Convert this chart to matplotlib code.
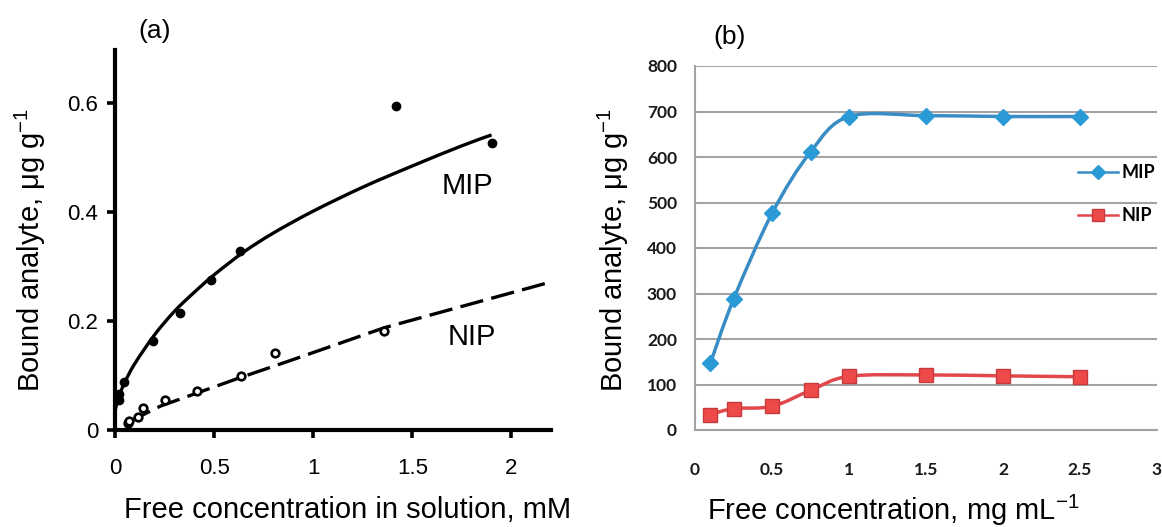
import matplotlib
matplotlib.use("Agg")
import matplotlib.pyplot as plt
from matplotlib.path import Path
from matplotlib.patches import PathPatch
from matplotlib.lines import Line2D

plt.rcParams['font.family'] = ['Liberation Sans', 'DejaVu Sans']
plt.rcParams['mathtext.default'] = 'regular'
plt.rcParams['lines.scale_dashes'] = False

# ---- panel (a): measured points and the drawn fits
a_mip_x = [0.02, 0.02, 0.047, 0.19, 0.326, 0.486, 0.629, 1.42, 1.90]
a_mip_y = [0.066, 0.056, 0.089, 0.164, 0.214, 0.275, 0.328, 0.596, 0.528]
a_nip_x = [0.065, 0.072, 0.116, 0.141, 0.25, 0.414, 0.634, 0.805, 1.356]
a_nip_y = [0.013, 0.017, 0.023, 0.041, 0.056, 0.072, 0.099, 0.142, 0.182]

a_mip_fit_x = [0, 0.02, 0.05, 0.1, 0.2, 0.3, 0.4, 0.5, 0.65, 0.8, 1.0, 1.25, 1.5, 1.75, 1.9]
a_mip_fit_y = [0.035, 0.062, 0.088, 0.122, 0.175, 0.218, 0.253, 0.285, 0.327, 0.362,
               0.402, 0.446, 0.485, 0.522, 0.542]
a_nip_fit_x = [0.07, 0.23, 0.63, 0.88, 1.36, 2.2]
a_nip_fit_y = [0.015, 0.044, 0.096, 0.127, 0.188, 0.272]

# ---- panel (b)
b_x = [0.1, 0.25, 0.5, 0.75, 1.0, 1.5, 2.0, 2.5]
b_mip = [147, 287, 476, 611, 689, 691, 689, 689]
b_nip = [34, 47, 52, 87, 118, 121, 119, 117]

blue_line = '#3a8cc4'
blue_mark = '#2a9ad6'
red_line = '#e2474c'
red_mark = '#ee4a4a'
grid_grey = '#a3a3a3'


def smooth_path(xs, ys, t=1 / 6):
    # Catmull-Rom style bezier through the given points (like Excel "smoothed line")
    pts = list(zip(xs, ys))
    verts = [pts[0]]
    codes = [Path.MOVETO]
    n = len(pts)
    for i in range(n - 1):
        p0 = pts[max(i - 1, 0)]
        p1 = pts[i]
        p2 = pts[i + 1]
        p3 = pts[min(i + 2, n - 1)]
        c1 = (p1[0] + (p2[0] - p0[0]) * t, p1[1] + (p2[1] - p0[1]) * t)
        c2 = (p2[0] - (p3[0] - p1[0]) * t, p2[1] - (p3[1] - p1[1]) * t)
        verts += [c1, c2, p2]
        codes += [Path.CURVE4] * 3
    return Path(verts, codes)


W, H = 1162, 527
fig = plt.figure(figsize=(W / 100, H / 100), dpi=100)

# ---------------- (a)
ax1 = fig.add_axes([115 / W, 1 - 430 / H, (551 - 115) / W, (430 - 50) / H])
ax1.set_xlim(0, 2.2)
ax1.set_ylim(0, 0.698)
for s in ['top', 'right']:
    ax1.spines[s].set_visible(False)
for s in ['left', 'bottom']:
    ax1.spines[s].set_linewidth(3)
ax1.set_xticks([0, 0.5, 1, 1.5, 2])
ax1.set_xticklabels(['0', '0.5', '1', '1.5', '2'])
ax1.set_yticks([0, 0.2, 0.4, 0.6])
ax1.set_yticklabels(['0', '0.2', '0.4', '0.6'])
ax1.tick_params(axis='both', direction='out', length=6, width=2.6, labelsize=16)
ax1.tick_params(axis='x', pad=14)
ax1.tick_params(axis='y', pad=6)

ax1.add_patch(PathPatch(smooth_path(a_mip_fit_x, a_mip_fit_y), fill=False,
                        lw=2.4, edgecolor='black', clip_on=False))
ax1.plot(a_nip_fit_x, a_nip_fit_y, color='black', lw=2.4, ls=(0, (17, 6)),
         solid_capstyle='butt', clip_on=False)
ax1.plot(a_mip_x, a_mip_y, 'o', color='black', ms=6, clip_on=False)
ax1.plot(a_nip_x, a_nip_y, 'o', mfc='white', mec='black', mew=1.9, ms=5.5, clip_on=False)
ax1.text(1.78, 0.449, 'MIP', fontsize=21, ha='center', va='center')
ax1.text(1.80, 0.171, 'NIP', fontsize=21, ha='center', va='center')

fig.text(155 / W, 1 - 31 / H, '(a)', fontsize=19, ha='center', va='center')
fig.text(30 / W, 1 - 250 / H, r'Bound analyte, μg g$^{-1}$', fontsize=21,
         rotation=90, ha='center', va='center')
fig.text(348 / W, 1 - 510 / H, 'Free concentration in solution, mM', fontsize=21,
         ha='center', va='center')

# ---------------- (b)
ax2 = fig.add_axes([695 / W, 1 - 430 / H, (1157 - 695) / W, (430 - 66) / H])
ax2.set_xlim(0, 3)
ax2.set_ylim(0, 800)
for s in ['top', 'right']:
    ax2.spines[s].set_visible(False)
for s in ['left', 'bottom']:
    ax2.spines[s].set_color(grid_grey)
    ax2.spines[s].set_linewidth(1.5)
ax2.set_yticks(range(0, 900, 100))
ax2.set_xticks([0, 0.5, 1, 1.5, 2, 2.5, 3])
ax2.set_xticklabels(['0', '0.5', '1', '1.5', '2', '2.5', '3'])
ax2.yaxis.grid(True, color=grid_grey, lw=1.5)
ax2.set_axisbelow(True)
ax2.tick_params(axis='both', length=0, labelsize=12.5, labelcolor='#1a1a1a')
ax2.tick_params(axis='x', pad=23)
ax2.tick_params(axis='y', pad=13)
for lab in ax2.get_xticklabels() + ax2.get_yticklabels():
    lab.set_fontfamily('Lato')
    lab.set_fontweight('bold')

ax2.add_patch(PathPatch(smooth_path(b_x, b_mip), fill=False, lw=2.5, edgecolor=blue_line))
ax2.add_patch(PathPatch(smooth_path(b_x, b_nip), fill=False, lw=2.5, edgecolor=red_line))
ax2.plot(b_x, b_mip, 'D', color=blue_mark, ms=8.5)
ax2.plot(b_x, b_nip, 's', mfc=red_mark, mec='#c53b3d', mew=1, ms=10)

handles = [Line2D([], [], color=blue_line, lw=1.8, marker='D', mfc=blue_mark, mec=blue_mark, ms=7),
           Line2D([], [], color=red_line, lw=1.8, marker='s', mfc=red_mark, mec='#c53b3d', ms=8.5)]
ax2.legend(handles, ['MIP', 'NIP'], loc='upper left', bbox_to_anchor=(0.829, 0.73),
           frameon=False, borderpad=0, borderaxespad=0, handlelength=2.2,
           handletextpad=0.2, labelspacing=1.45,
           prop={'family': 'Lato', 'weight': 'bold', 'size': 13})

fig.text(730 / W, 1 - 37 / H, '(b)', fontsize=19, ha='center', va='center')
fig.text(613 / W, 1 - 250 / H, r'Bound analyte, μg g$^{-1}$', fontsize=21,
         rotation=90, ha='center', va='center')
fig.text(893 / W, 1 - 510 / H, r'Free concentration, mg mL$^{-1}$', fontsize=21,
         ha='center', va='center')

fig.savefig('out.png', dpi=100)
